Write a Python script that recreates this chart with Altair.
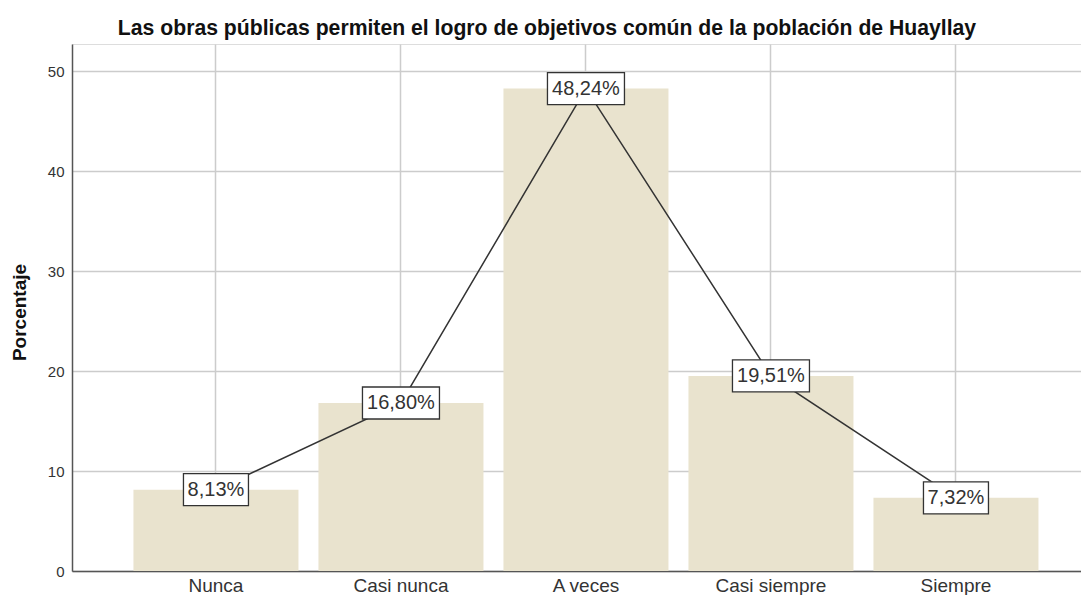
import altair as alt
import pandas as pd

categories = ["Nunca", "Casi nunca", "A veces", "Casi siempre", "Siempre"]
percentages = [8.13, 16.80, 48.24, 19.51, 7.32]
labels = ["8,13%", "16,80%", "48,24%", "19,51%", "7,32%"]
y_ticks = [0, 10, 20, 30, 40, 50]
title_text = "Las obras públicas permiten el logro de objetivos común de la población de Huayllay"

df = pd.DataFrame({"cat": categories, "pct": percentages, "lab": labels})


def box_path(label):
    w = 12 * len(label) + 5
    h = 16
    return f"M{-w/2},{-h}H{w/2}V{h}H{-w/2}Z"


df["box"] = [box_path(l) for l in labels]

FONT = "Liberation Sans"
W, H = 1009, 527

x = alt.X(
    "cat:N", sort=categories, title=None,
    scale=alt.Scale(paddingInner=0.108, paddingOuter=0.281, align=0.591),
    axis=alt.Axis(labelAngle=0, labelFontSize=19, labelColor="#333333", labelFont=FONT,
                  labelBaseline="alphabetic", labelPadding=20, ticks=False, grid=True,
                  gridColor="#cccccc", gridWidth=1.5, domainColor="#555555",
                  domainWidth=1.5, bandPosition=0.5),
)
y = alt.Y(
    "pct:Q",
    scale=alt.Scale(domain=[0, 52.7], nice=False, zero=True),
    axis=alt.Axis(values=y_ticks, title="Porcentaje", titleFontSize=19, titleFontWeight="bold",
                  titleFont=FONT, titleColor="#111111", titleAngle=270, titleX=-53, titleY=268,
                  titleAlign="center", titleBaseline="middle",
                  labelFontSize=15, labelFont=FONT, labelColor="#333333", labelPadding=8,
                  ticks=False, grid=True, gridColor="#cccccc", gridWidth=1.5,
                  domainColor="#555555", domainWidth=1.5),
)

base = alt.Chart(df)
bars = base.mark_bar(color="#E9E3CE").encode(x=x, y=y)
line = base.mark_line(color="#333333", strokeWidth=1.5).encode(x=x, y=y)
boxes = base.mark_point(size=4, filled=True, fill="white", stroke="#333333",
                        strokeWidth=1.3, opacity=1).encode(
    x=x, y=y, shape=alt.Shape("box:N", scale=None, legend=None))
texts = base.mark_text(fontSize=20, font=FONT, color="#333333", baseline="middle").encode(
    x=x, y=y, text="lab:N")

chart = alt.layer(bars, line, boxes, texts).properties(
    width=W, height=H,
    title=alt.TitleParams(text=title_text, fontSize=21.2, font=FONT, fontWeight="bold",
                          color="#111111", anchor="middle", dx=-29.5, dy=20, offset=8,
                          baseline="alphabetic"),
    autosize=alt.AutoSizeParams(type="none"),
    padding={"left": 64, "top": 36, "right": 0, "bottom": 24},
).configure_view(stroke=None).configure(background="white")

chart.save("out.html", embed_options={"renderer": "svg", "actions": False})
